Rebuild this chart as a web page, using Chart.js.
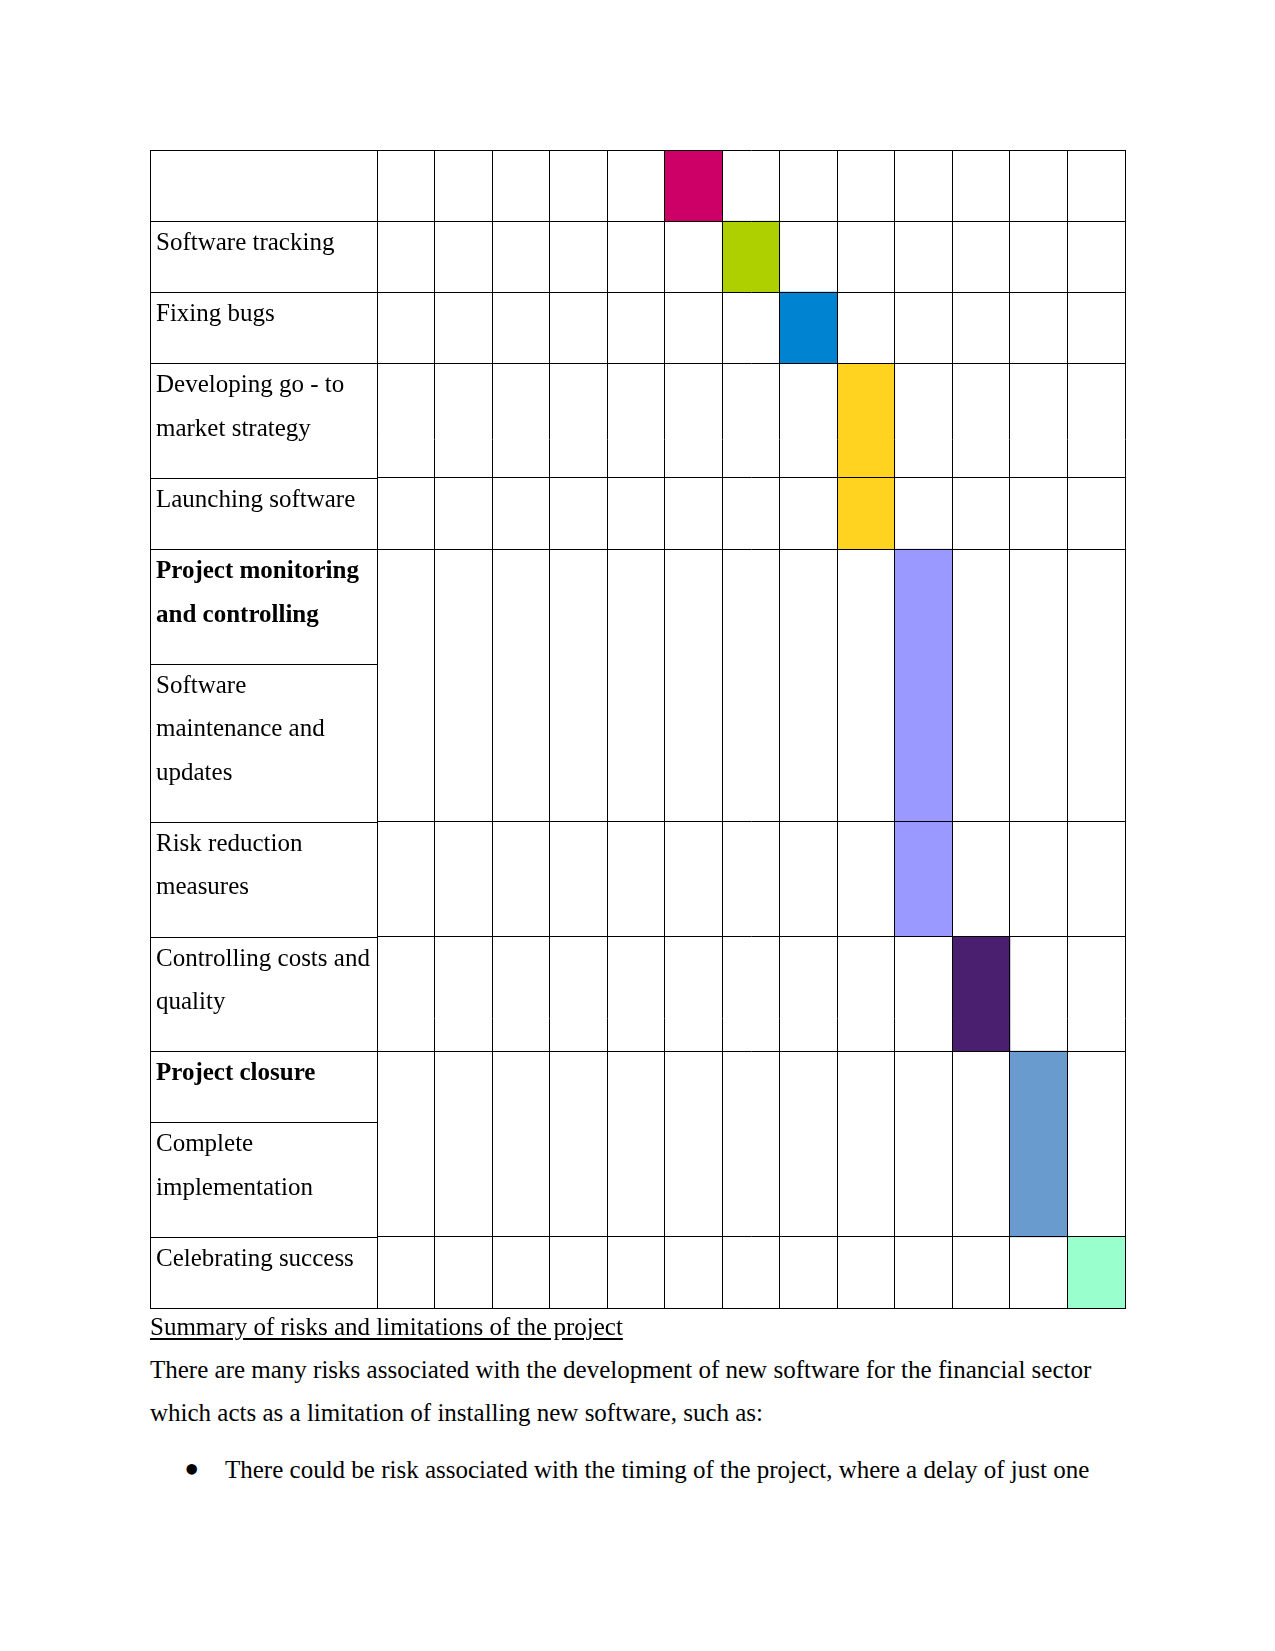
<!DOCTYPE html>
<html>
<head>
<meta charset="utf-8">
<script src="https://cdn.jsdelivr.net/npm/chart.js@4.4.0/dist/chart.umd.min.js"></script>
<style>
html,body{margin:0;padding:0;background:#fff;}
body{width:1275px;height:1651px;position:relative;overflow:hidden;font-family:"Liberation Serif","Times New Roman",serif;color:#000;}
#wrap{position:absolute;left:0;top:0;width:1275px;height:1320px;}
.ln{position:absolute;font-size:25px;line-height:30px;white-space:nowrap;}
.bul{position:absolute;font-size:44px;line-height:44px;white-space:nowrap;}
</style>
</head>
<body>
<div id="wrap"><canvas id="c" width="1275" height="1320"></canvas></div>
<div class="ln" style="left:150px;top:1312px;text-decoration:underline;text-underline-offset:3px;">Summary of risks and limitations of the project</div>
<div class="ln" style="left:150px;top:1355px;">There are many risks associated with the development of new software for the financial sector</div>
<div class="ln" style="left:150px;top:1398px;">which acts as a limitation of installing new software, such as:</div>
<div class="bul" style="left:184px;top:1448px;">•</div>
<div class="ln" style="left:225px;top:1455px;">There could be risk associated with the timing of the project, where a delay of just one</div>
<script>
// ---- data ----
const weeks = ['Week 1','Week 2','Week 3','Week 4','Week 5','Week 6','Week 7','Week 8','Week 9','Week 10','Week 11','Week 12','Week 13'];

// label cells of the first column, top to bottom (each entry = its text lines)
const labelTexts = [
  [''],
  ['Software tracking'],
  ['Fixing bugs'],
  ['Developing go - to', 'market strategy'],
  ['Launching software'],
  ['Project monitoring', 'and controlling'],
  ['Software', 'maintenance and', 'updates'],
  ['Risk reduction', 'measures'],
  ['Controlling costs and', 'quality'],
  ['Project closure'],
  ['Complete', 'implementation'],
  ['Celebrating success']
];
const labelBold = [false, false, false, false, false, true, false, false, false, true, false, false];

// how many label cells each timeline row spans
const rowSpans = [1, 1, 1, 1, 1, 2, 1, 1, 2, 1];

// activity bars: timeline row and week
const barRows  = [0, 1, 2, 3, 4, 5, 6, 7, 8, 9];
const barWeeks = ['Week 6', 'Week 7', 'Week 8', 'Week 9', 'Week 9', 'Week 10', 'Week 10', 'Week 11', 'Week 12', 'Week 13'];

// palette
const barColors = ['#CC0066', '#AECF00', '#0084D1', '#FFD320', '#FFD320', '#9999FF', '#9999FF', '#4B1F6F', '#6A9BCE', '#99FFCC'];

// ---- layout helpers (units = text lines) ----
const CELL_PAD = 0.632;
const BASELINE_OFF = 0.666;
const LABEL_COL_W = 227;

const cellTop = [];
let acc = 0;
labelTexts.forEach(t => { cellTop.push(acc); acc += t.length + CELL_PAD; });
const totalUnits = acc;

const rowEdges = [];
let ci = 0;
rowSpans.forEach(s => { rowEdges.push(cellTop[ci]); ci += s; });
rowEdges.push(totalUnits);

const datasets = barRows.map((r, i) => ({
  label: labelTexts[r].join(' '),
  data: [{ x: barWeeks[i], y: [rowEdges[r], rowEdges[r + 1]] }],
  backgroundColor: barColors[i],
  borderWidth: 0,
  grouped: false,
  barPercentage: 1,
  categoryPercentage: 1
}));

const labelColumn = {
  id: 'labelColumn',
  afterDraw(chart) {
    const { ctx, chartArea: a, scales: { y } } = chart;
    const left = a.left - LABEL_COL_W;
    ctx.save();
    ctx.strokeStyle = '#000';
    ctx.lineWidth = 1;
    ctx.beginPath();
    const al = v => Math.round(v) + 0.5;
    cellTop.concat([totalUnits]).forEach(v => {
      const py = al(y.getPixelForValue(v));
      ctx.moveTo(left, py);
      ctx.lineTo(a.left, py);
    });
    ctx.moveTo(al(left), al(y.getPixelForValue(0)));
    ctx.lineTo(al(left), al(y.getPixelForValue(totalUnits)));
    ctx.stroke();
    ctx.fillStyle = '#000';
    ctx.textBaseline = 'alphabetic';
    ctx.textAlign = 'left';
    labelTexts.forEach((lines, i) => {
      ctx.font = (labelBold[i] ? 'bold ' : '') + '25px "Liberation Serif", "Times New Roman", serif';
      lines.forEach((t, k) => {
        ctx.fillText(t, left + 6, y.getPixelForValue(cellTop[i] + BASELINE_OFF + k));
      });
    });
    ctx.restore();
  }
};

new Chart(document.getElementById('c'), {
  type: 'bar',
  data: { labels: weeks, datasets },
  plugins: [labelColumn],
  options: {
    responsive: false,
    animation: false,
    devicePixelRatio: 1,
    layout: { padding: { left: 377, top: 150, right: 150, bottom: 12 } },
    plugins: { legend: { display: false }, tooltip: { enabled: false }, title: { display: false } },
    scales: {
      x: {
        type: 'category',
        offset: true,
        grid: { offset: true, color: '#000', lineWidth: 1, drawTicks: false, z: 1 },
        border: { display: true, color: '#000', width: 1, z: 1 },
        ticks: { display: false }
      },
      y: {
        type: 'linear',
        reverse: true,
        min: 0,
        max: totalUnits,
        afterBuildTicks: s => { s.ticks = rowEdges.map(v => ({ value: v })); },
        grid: { color: '#000', lineWidth: 1, drawTicks: false, z: 1 },
        border: { display: true, color: '#000', width: 1, z: 1 },
        ticks: { display: false }
      }
    }
  }
});
</script>
</body>
</html>
